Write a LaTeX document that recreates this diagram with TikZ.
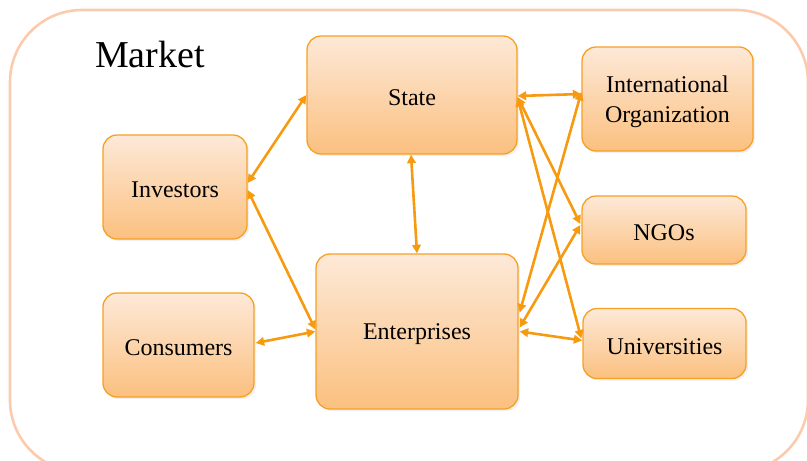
\documentclass[tikz,border=0pt]{standalone}
\usepackage{fontspec}
\setmainfont{Liberation Serif}
\usetikzlibrary{arrows.meta,calc,shadows}

\definecolor{framepeach}{HTML}{FCCBAE}
\definecolor{boxedge}{HTML}{F6A024}
\definecolor{boxtop}{HTML}{FDE9D8}
\definecolor{boxbottom}{HTML}{FBC07F}
\definecolor{linkorange}{HTML}{F79A10}

\tikzset{
  actor/.style={draw=boxedge, line width=1.3pt, rounded corners=14pt,
    top color=boxtop, bottom color=boxbottom, inner sep=0pt,
    drop shadow={opacity=0.12, shadow xshift=2pt, shadow yshift=-2pt}},
  captext/.style={align=center, font=\fontsize{24}{30}\selectfont,
    inner sep=0pt, yshift=-3pt},
  link/.style={draw=linkorange, line width=2.6pt,
    {Triangle[length=8.5pt,width=8.5pt]}-{Triangle[length=8.5pt,width=8.5pt]}},
}

\begin{document}
\begin{tikzpicture}[x=1pt,y=-1pt]
  \useasboundingbox (0,0) rectangle (807,461);

  % market frame
  \draw[framepeach, line width=2.6pt, rounded corners=72pt] (10,10) rectangle (808,472);
  \node[anchor=base west, font=\fontsize{38}{40}\selectfont, inner sep=0pt] (market) at (95,67) {Market};

  % actors
  \node[actor, minimum width=210pt, minimum height=118pt,
        label={[captext]center:State}] (state) at (412,95) {};
  \node[actor, minimum width=171pt, minimum height=104pt,
        label={[captext]center:International\\Organization}] (io) at (667.5,99) {};
  \node[actor, minimum width=164pt, minimum height=68pt,
        label={[captext]center:NGOs}] (ngo) at (664,230) {};
  \node[actor, minimum width=163pt, minimum height=70pt,
        label={[captext]center:Universities}] (uni) at (664.5,343.5) {};
  \node[actor, minimum width=144pt, minimum height=104pt,
        label={[captext]center:Investors}] (inv) at (175,187) {};
  \node[actor, minimum width=151pt, minimum height=104pt,
        label={[captext]center:Consumers}] (con) at (178.5,345) {};
  \node[actor, minimum width=202pt, minimum height=155pt,
        label={[captext]center:Enterprises}] (ent) at (417,331.5) {};

  % relations
  \draw[link] ($(inv.east)+(0,-4)$) -- (state.west);
  \draw[link] ($(inv.east)+(0,3)$) -- ($(ent.west)+(0,-2)$);
  \draw[link] ($(con.east)+(1,-2)$) -- (ent.west);
  \draw[link] ($(state.south)+(-1,0)$) -- ($(ent.north)+(0,0)$);
  \draw[link] ($(state.east)+(0,1)$) -- ($(io.west)+(0,-5)$);
  \draw[link] ($(state.east)+(0,2)$) -- ($(ngo.west)+(-1,-6)$);
  \draw[link] ($(state.east)+(0,3)$) -- ($(uni.west)+(-1,-5)$);
  \draw[link] ($(ent.east)+(1,-19)$) -- ($(io.west)+(0,-7)$);
  \draw[link] ($(ent.east)+(1,-4)$) -- ($(ngo.west)+(-1,-5)$);
  \draw[link] ($(ent.east)+(1,0)$) -- ($(uni.west)+(0,-3)$);
\end{tikzpicture}
\end{document}
